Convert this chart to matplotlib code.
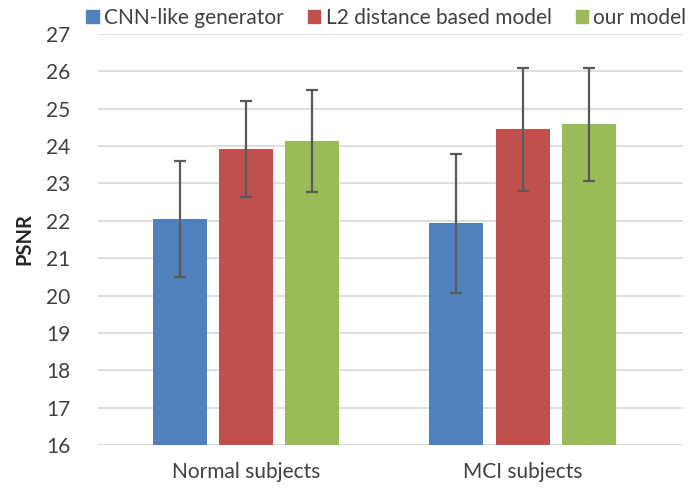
import numpy as np
import matplotlib.pyplot as plt
from matplotlib.patches import Patch

# data
groups = ["Normal subjects", "MCI subjects"]
models = ["CNN-like generator", "L2 distance based model", "our model"]
psnr_cnn = [22.05, 21.93]
psnr_l2 = [23.93, 24.45]
psnr_ours = [24.13, 24.58]
err_cnn = [1.55, 1.85]
err_l2 = [1.28, 1.64]
err_ours = [1.37, 1.51]

colors = ["#4F81BD", "#C0504D", "#9BBB59"]
plt.rcParams['font.family'] = ['Lato', 'DejaVu Sans']

fig = plt.figure(figsize=(6.95, 4.91), dpi=100)
ax = fig.add_axes([0.141, 0.0937, 0.842, 0.837])

x = np.arange(len(groups))
width = 0.195
step = 0.24
series = [(psnr_cnn, err_cnn), (psnr_l2, err_l2), (psnr_ours, err_ours)]
for i, (vals, errs) in enumerate(series):
    ax.bar(x + (i - 1) * step, np.array(vals) - 16, width, bottom=16,
           color=colors[i], zorder=2)
    ax.errorbar(x + (i - 1) * step, vals, yerr=errs, fmt='none',
                ecolor="#595959", elinewidth=1.6, capsize=4, capthick=1.6, zorder=3)

ax.set_ylim(16, 27)
ax.set_xlim(-0.535, 1.58)
ax.set_yticks(range(16, 28))
ax.set_xticks(x)
ax.set_xticklabels(groups)
ax.yaxis.grid(True, color="#D9D9D9", linewidth=1.2, zorder=0)
ax.set_axisbelow(True)
for s in ax.spines.values():
    s.set_visible(False)
ax.tick_params(axis='both', length=0, labelsize=15, colors="#404040")
ax.tick_params(axis='y', pad=20)
ax.tick_params(axis='x', pad=12)
ax.set_ylabel("PSNR", fontsize=14.5, fontweight='bold', color="#262626", labelpad=8)

handles = [Patch(color=c) for c in colors]
fig.legend(handles, models, loc='center', bbox_to_anchor=(0.556, 0.963), ncol=3,
           frameon=False, fontsize=15, handlelength=0.6, handleheight=0.6,
           handletextpad=0.25, columnspacing=1.15, labelcolor="#404040",
           borderpad=0, borderaxespad=0)

fig.savefig("out.png", dpi=100)
